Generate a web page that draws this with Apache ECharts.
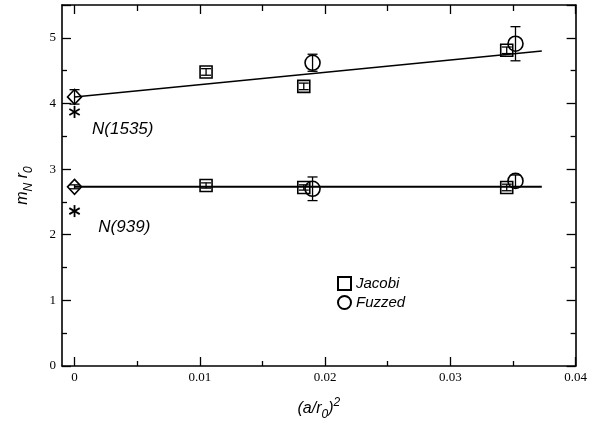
<!DOCTYPE html>
<html>
<head>
<meta charset="utf-8">
<script src="https://cdn.jsdelivr.net/npm/echarts@6/dist/echarts.min.js"></script>
<style>html,body{margin:0;padding:0;background:#fff}#c{width:590px;height:426px}</style>
</head>
<body>
<div id="c"></div>
<script>
// ---- data ----
const jacobiX = [0.0105, 0.0183, 0.0345];
const jacobi1535 = [4.48, 4.26, 4.81];
const jacobi1535Err = [0.05, 0.05, 0.05];
const jacobi939 = [2.75, 2.72, 2.72];
const jacobi939Err = [0.04, 0.04, 0.05];
const fuzzedX = [0.019, 0.0352];
const fuzzed1535 = [4.62, 4.91];
const fuzzed1535Err = [0.13, 0.26];
const fuzzed939 = [2.70, 2.82];
const fuzzed939Err = [0.18, 0.09];
const chiralX = [0, 0];
const chiralVal = [4.10, 2.73];
const chiralErr = [0.11, 0.03];
const expVal = [3.87, 2.36];
const fitX = [0, 0.0373];
const fit1535 = [4.10, 4.80];
const fit939 = [2.73, 2.73];
const xMajor = [0, 0.01, 0.02, 0.03, 0.04];
const xMinor = [0.005, 0.015, 0.025, 0.035];
const xLabels = ['0', '0.01', '0.02', '0.03', '0.04'];
const stateLabels = [['N(1535)', 0.0014, 3.6], ['N(939)', 0.0019, 2.12]];

const zip = (xs, ys) => xs.map((x, i) => [x, ys[i]]);
const errData = (xs, ys, es) => xs.map((x, i) => [x, ys[i] - es[i], ys[i] + es[i]]);

function errRender(params, api) {
  const x = api.value(0), lo = api.value(1), hi = api.value(2);
  const a = api.coord([x, hi]), b = api.coord([x, lo]);
  const w = 5, st = {stroke: '#000', lineWidth: 1.3};
  return {type: 'group', children: [
    {type: 'line', shape: {x1: a[0], y1: a[1], x2: b[0], y2: b[1]}, style: st},
    {type: 'line', shape: {x1: a[0] - w, y1: a[1], x2: a[0] + w, y2: a[1]}, style: st},
    {type: 'line', shape: {x1: b[0] - w, y1: b[1], x2: b[0] + w, y2: b[1]}, style: st}
  ]};
}
function starRender(params, api) {
  const p = api.coord([api.value(0), api.value(1)]);
  const r = 6, st = {stroke: '#000', lineWidth: 1.8};
  const ch = [];
  for (let k = 0; k < 3; k++) {
    const ang = Math.PI / 2 + k * Math.PI / 3;
    ch.push({type: 'line', shape: {x1: p[0] - r * Math.cos(ang), y1: p[1] - r * Math.sin(ang), x2: p[0] + r * Math.cos(ang), y2: p[1] + r * Math.sin(ang)}, style: st});
  }
  return {type: 'group', children: ch};
}

const tickFont = {fontFamily: 'Liberation Serif', fontSize: 13, color: '#000'};
const axisLine = {show: true, onZero: false, lineStyle: {color: '#000', width: 1.6}};
const xBase = {type: 'value', min: -0.001, max: 0.04, splitLine: {show: false}, axisLine: axisLine};
const openStyle = {color: 'rgba(0,0,0,0)', borderColor: '#000', borderWidth: 1.6, opacity: 1};

const chart = echarts.init(document.getElementById('c'));
chart.setOption({
  animation: false,
  grid: {left: 62, right: 11, top: 5, bottom: 59},
  xAxis: [
    Object.assign({}, xBase, {position: 'bottom',
      axisTick: {inside: true, length: 9, lineStyle: {color: '#000', width: 1.3}, customValues: xMajor},
      axisLabel: Object.assign({margin: 5, customValues: xMajor, formatter: v => xLabels[xMajor.findIndex(t => Math.abs(t - v) < 1e-9)] || ''}, tickFont),
      name: '{a|(a/r}{s|0}{a|)}{p|2}', nameLocation: 'middle', nameGap: 31,
      nameTextStyle: {rich: {
        a: {fontFamily: 'Liberation Sans', fontStyle: 'italic', fontSize: 16, color: '#000'},
        s: {fontFamily: 'Liberation Sans', fontStyle: 'italic', fontSize: 12, color: '#000', padding: [12, 0, 0, 0]},
        p: {fontFamily: 'Liberation Sans', fontStyle: 'italic', fontSize: 12, color: '#000', padding: [0, 0, 12, 0]}
      }}}),
    Object.assign({}, xBase, {position: 'bottom', axisLine: {show: false, onZero: false},
      axisTick: {inside: true, length: 5, lineStyle: {color: '#000', width: 1.3}, customValues: xMinor},
      axisLabel: {show: false}}),
    Object.assign({}, xBase, {position: 'top',
      axisTick: {inside: true, length: 9, lineStyle: {color: '#000', width: 1.3}, customValues: xMajor},
      axisLabel: {show: false}}),
    Object.assign({}, xBase, {position: 'top', axisLine: {show: false, onZero: false},
      axisTick: {inside: true, length: 6, lineStyle: {color: '#000', width: 1.3}, customValues: xMinor},
      axisLabel: {show: false}})
  ],
  yAxis: [
    {type: 'value', min: 0, max: 5.5, interval: 1, position: 'left', splitLine: {show: false}, axisLine: axisLine,
      axisTick: {inside: true, length: 9, lineStyle: {color: '#000', width: 1.3}},
      minorTick: {show: true, splitNumber: 2, length: 5, lineStyle: {color: '#000', width: 1.3}},
      axisLabel: Object.assign({margin: 6, showMaxLabel: false}, tickFont),
      name: '{a|m}{s|N}{a| r}{s|0}', nameLocation: 'middle', nameGap: 27, nameRotate: 90,
      nameTextStyle: {rich: {
        a: {fontFamily: 'Liberation Sans', fontStyle: 'italic', fontSize: 16, color: '#000'},
        s: {fontFamily: 'Liberation Sans', fontStyle: 'italic', fontSize: 12, color: '#000', padding: [12, 0, 0, 0]}
      }}},
    {type: 'value', min: 0, max: 5.5, interval: 1, position: 'right', splitLine: {show: false}, axisLine: axisLine,
      axisTick: {inside: true, length: 9, lineStyle: {color: '#000', width: 1.3}},
      minorTick: {show: true, splitNumber: 2, length: 5, lineStyle: {color: '#000', width: 1.3}},
      axisLabel: {show: false}}
  ],
  legend: {
    left: 332, top: 271, orient: 'vertical', itemGap: 4, itemWidth: 13, itemHeight: 13,
    data: [{name: 'Jacobi', icon: 'rect'}, {name: 'Fuzzed', icon: 'circle'}],
    textStyle: {fontFamily: 'Liberation Sans', fontStyle: 'italic', fontSize: 15, color: '#000'}
  },
  series: [
    {type: 'line', data: zip(fitX, fit1535), symbol: 'none', lineStyle: {color: '#000', width: 1.5}, z: 2},
    {type: 'line', data: zip(fitX, fit939), symbol: 'none', lineStyle: {color: '#000', width: 2}, z: 2},
    {type: 'custom', renderItem: errRender, data: errData(jacobiX, jacobi1535, jacobi1535Err), z: 3},
    {type: 'custom', renderItem: errRender, data: errData(jacobiX, jacobi939, jacobi939Err), z: 3},
    {type: 'custom', renderItem: errRender, data: errData(fuzzedX, fuzzed1535, fuzzed1535Err), z: 3},
    {type: 'custom', renderItem: errRender, data: errData(fuzzedX, fuzzed939, fuzzed939Err), z: 3},
    {type: 'custom', renderItem: errRender, data: errData(chiralX, chiralVal, chiralErr), z: 3},
    {type: 'custom', renderItem: starRender, data: zip(chiralX, expVal), z: 3},
    {name: 'Jacobi', type: 'scatter', data: zip(jacobiX, jacobi1535).concat(zip(jacobiX, jacobi939)), symbol: 'rect', symbolSize: 12,
      itemStyle: openStyle, z: 4},
    {name: 'Fuzzed', type: 'scatter', data: zip(fuzzedX, fuzzed1535).concat(zip(fuzzedX, fuzzed939)), symbol: 'circle', symbolSize: 15,
      itemStyle: openStyle, z: 4},
    {type: 'scatter', data: zip(chiralX, chiralVal), symbol: 'diamond', symbolSize: [14, 15],
      itemStyle: openStyle, z: 4},
    {type: 'scatter', data: stateLabels.map(s => ({value: [s[1], s[2]], name: s[0]})), symbolSize: 0, silent: true,
      itemStyle: {opacity: 1},
      label: {show: true, position: 'right', distance: 0, opacity: 1, formatter: p => p.name,
        fontFamily: 'Liberation Sans', fontStyle: 'italic', fontSize: 17, color: '#000'}}
  ]
});
</script>
</body>
</html>
